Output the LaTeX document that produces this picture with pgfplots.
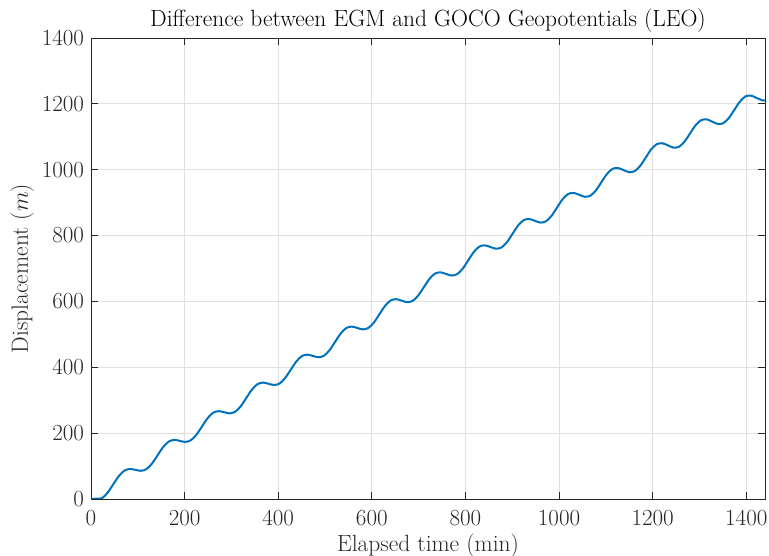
\documentclass[border=0pt]{standalone}
\usepackage{pgfplots}
\pgfplotsset{compat=1.18}
\definecolor{mblue}{rgb}{0,0.447,0.741}
\definecolor{axgray}{rgb}{0.15,0.15,0.15}
\definecolor{gridgray}{rgb}{0.88,0.88,0.88}
\begin{document}
\begin{tikzpicture}
\begin{axis}[
  name=ax,
  scale only axis,
  width=505.5pt, height=345.75pt,
  xmin=0, xmax=1440, ymin=0, ymax=1400,
  xtick={0,200,...,1400}, ytick={0,200,...,1400},
  /pgf/number format/1000 sep={},
  grid=major,
  major grid style={gridgray, line width=0.6pt},
  axis line style={axgray, line width=0.6pt},
  tick style={axgray, line width=0.6pt},
  tick align=inside, major tick length=5pt,
  tick label style={font=\fontsize{16}{18}\selectfont, text=axgray},
  xticklabel style={yshift=-5.2pt},
  yticklabel style={xshift=-1.7pt},
  every axis title/.style={at={(axis description cs:0.5,1)}, anchor=base, yshift=8.25pt,
    font=\fontsize{17.6}{20}\selectfont},
  title={Difference between EGM and GOCO Geopotentials (LEO)},
  every axis x label/.style={at={(axis description cs:0.5,0)}, anchor=base, yshift=-39.75pt,
    font=\fontsize{17.6}{20}\selectfont, text=axgray},
  xlabel={Elapsed time (min)},
  every axis y label/.style={at={(axis description cs:-0.0935,0.5)}, anchor=base, rotate=90,
    font=\fontsize{17.6}{20}\selectfont, text=axgray},
  ylabel={Displacement ($m$)},
]
\addplot[mblue, line width=1.5pt, smooth] coordinates {
(0,0) (11.85,1) (23.7,2.6) (35.55,19.4) (47.4,44.3) (59.25,69.1) (71.1,85.9) (82.95,91.2)
(94.8,88.5) (106.65,85.6) (118.5,90.8) (130.35,107.6) (142.2,132.5) (154.05,157.4) (165.9,174.2) (177.75,179.4)
(189.6,176.5) (201.45,173.3) (213.3,178.3) (225.15,195.0) (237.0,220.0) (248.85,245.0) (260.7,261.8) (272.55,266.7)
(284.4,263.5) (296.25,260.0) (308.1,264.9) (319.95,281.6) (331.8,306.8) (343.65,331.9) (355.5,348.6) (367.35,353.5)
(379.2,350.0) (391.05,346.2) (402.9,350.7) (414.75,367.3) (426.6,392.3) (438.45,417.2) (450.3,433.8) (462.15,438.3)
(474.0,434.5) (485.85,430.5) (497.7,435.1) (509.55,451.8) (521.4,477.0) (533.25,502.2) (545.1,519.0) (556.95,523.5)
(568.8,519.5) (580.65,515.1) (592.5,519.4) (604.35,535.8) (616.2,561.0) (628.05,586.2) (639.9,602.7) (651.75,606.9)
(663.6,602.5) (675.45,597.7) (687.3,601.7) (699.15,618.0) (711.0,643.0) (722.85,668.0) (734.7,684.4) (746.55,688.3)
(758.4,683.5) (770.25,678.7) (782.1,682.7) (793.95,699.2) (805.8,724.5) (817.65,749.9) (829.5,766.3) (841.35,770.4)
(853.2,765.5) (865.05,760.1) (876.9,763.8) (888.75,780.0) (900.6,805.3) (912.45,830.5) (924.3,846.7) (936.15,850.4)
(948.0,845.0) (959.85,839.5) (971.7,843.0) (983.55,859.2) (995.4,884.5) (1007.25,909.8) (1019.1,926.1) (1030.95,929.5)
(1042.8,924.0) (1054.65,917.8) (1066.5,920.8) (1078.35,936.5) (1090.2,961.5) (1102.05,986.5) (1113.9,1002.3) (1125.75,1005.2)
(1137.6,999.0) (1149.45,992.6) (1161.3,995.5) (1173.15,1011.3) (1185.0,1036.5) (1196.85,1061.7) (1208.7,1077.6) (1220.55,1080.4)
(1232.4,1074.0) (1244.25,1067.1) (1256.1,1069.5) (1267.95,1085.1) (1279.8,1110.0) (1291.65,1134.9) (1303.5,1150.5) (1315.35,1152.9)
(1327.2,1146.0) (1339.05,1139.0) (1350.9,1141.3) (1362.75,1157.0) (1374.6,1182.0) (1386.45,1207.0) (1398.3,1222.7) (1410.15,1225.0)
(1422.0,1218.0) (1433.85,1210.7) (1440,1210.3)
};
\end{axis}
\pgfresetboundingbox
\path ([xshift=-68.25pt, yshift=-42.75pt]ax.south west) rectangle ([xshift=3pt, yshift=28.5pt]ax.north east);
\end{tikzpicture}
\end{document}
